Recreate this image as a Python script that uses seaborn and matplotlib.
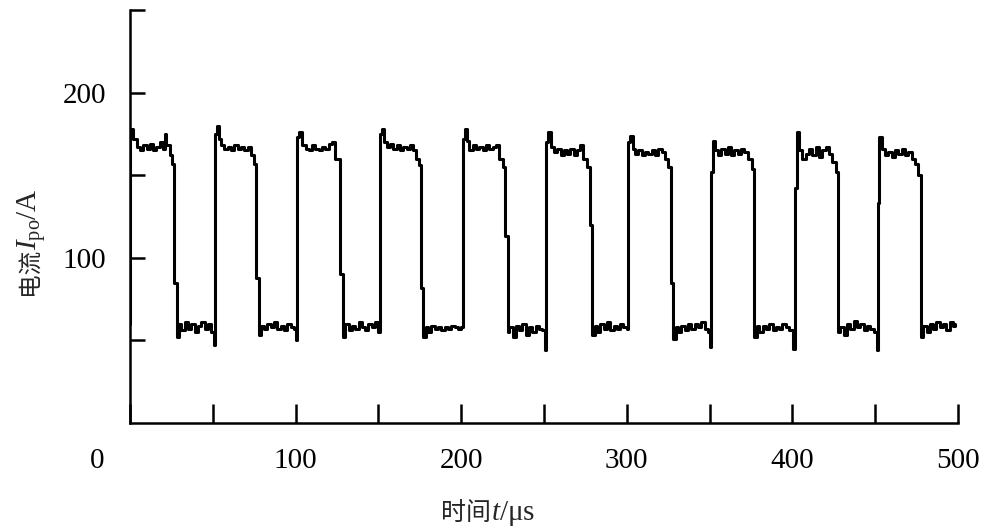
import matplotlib
matplotlib.use("Agg")
import matplotlib.pyplot as plt
import matplotlib.transforms as mtransforms
import seaborn as sns
import pandas as pd

# time (µs) and current (A); drawn as a step trace
time_us = [
    0, 0.3, 2, 4, 6, 8, 10, 12, 14, 16, 18, 20, 21, 22, 24, 25.5, 26.5, 28.5, 29.5, 31,
    33, 35, 37, 39, 41, 43, 45, 47, 49, 50.5,
    51.3, 52.5, 53.5, 55, 57, 59, 61, 63, 65, 67, 69, 71, 73, 75, 76, 77.8, 79, 81, 83,
    85, 87, 89, 91, 93, 95, 97, 99, 100.2,
    101, 102, 104, 106, 108, 110, 112, 114, 116, 118, 120, 122, 124, 127, 128.5, 130,
    132, 134, 136, 138, 140, 142, 144, 146, 148, 150,
    151, 152, 153.5, 155, 157, 159, 161, 163, 165, 167, 169, 171, 172.5, 174.5, 175.5,
    177, 178.5, 180, 182, 184, 186, 188, 190, 192, 194, 196, 198, 200,
    201, 202, 203.5, 205, 207, 209, 211, 213, 215, 217, 219, 221, 223, 225.5, 226.5,
    228, 229, 231, 233, 235, 237, 239, 241, 243, 245, 247, 249, 250.5,
    251, 252.5, 254, 256, 258, 260, 262, 264, 266, 268, 270, 272, 273.5, 276, 277.5,
    279, 280.5, 282, 284, 286, 288, 290, 292, 294, 296, 298, 300,
    300.7, 302, 303.5, 305, 307, 309, 311, 313, 315, 317, 319, 321, 323, 325, 326.5,
    328, 329.5, 331, 333, 335, 337, 339, 341, 343, 345, 347, 349, 350.3,
    351, 352, 353.5, 355, 357, 359, 361, 363, 365, 367, 369, 371, 373, 375.5, 377,
    378.5, 380, 382, 384, 386, 388, 390, 392, 394, 396, 398, 400.5,
    401.6, 402.5, 404, 406, 408, 410, 412, 414, 416, 418, 420, 422, 424, 426.5, 427.5,
    429, 431, 433, 435, 437, 439, 441, 443, 445, 447, 449, 451,
    451.7, 452.5, 454, 456, 458, 460, 462, 464, 466, 468, 470, 472, 474, 476, 477.5,
    479, 481, 483, 485, 487, 489, 491, 493, 495, 497, 498,
]
current_a = [
    60, 178, 172, 167, 165, 168, 166, 169, 165, 167, 170, 166, 175, 168, 162, 157, 85, 52, 60, 56,
    61, 57, 60, 55, 59, 61, 57, 60, 55, 47,
    175, 180, 172, 168, 166, 167, 165, 168, 166, 167, 165, 167, 162, 157, 88, 53, 59, 57, 60,
    58, 61, 57, 59, 56, 60, 58, 57, 50,
    173, 176, 168, 166, 165, 168, 166, 165, 167, 166, 169, 170, 160, 90, 52, 60,
    56, 59, 57, 61, 58, 56, 60, 58, 61, 55,
    175, 178, 170, 167, 169, 166, 168, 165, 167, 166, 168, 165, 160, 156, 82,
    52, 58, 55, 59, 57, 58, 56, 58, 57, 59, 58, 57, 58,
    172, 178, 171, 165, 168, 166, 167, 165, 168, 166, 167, 168, 160, 155, 113,
    55, 58, 52, 59, 56, 60, 53, 58, 55, 59, 57, 56, 44,
    170, 176, 167, 164, 166, 162, 165, 163, 166, 162, 165, 168, 160, 155, 120,
    53, 59, 55, 60, 57, 61, 56, 59, 57, 60, 58, 57,
    170, 174, 166, 163, 165, 162, 164, 163, 165, 162, 166, 164, 160, 155, 85,
    51, 58, 55, 59, 56, 60, 57, 60, 58, 61, 57, 55, 46,
    152, 171, 165, 162, 166, 163, 167, 162, 165, 163, 166, 164, 160, 154, 52,
    59, 55, 59, 57, 60, 56, 58, 57, 60, 58, 56, 45,
    142, 176, 165, 160, 163, 166, 162, 167, 161, 165, 167, 163, 158, 152, 55,
    58, 53, 60, 57, 62, 58, 60, 56, 59, 57, 55, 44,
    133, 173, 166, 162, 164, 161, 165, 163, 166, 162, 164, 160, 157, 150, 52,
    59, 55, 60, 57, 61, 58, 60, 56, 61, 59, 60,
]

x_major = [0, 50, 100, 150, 200, 250, 300, 350, 400, 450, 500]
x_labels = ["0", "", "100", "", "200", "", "300", "", "400", "", "500"]
y_major = [50, 100, 150, 200, 250]
y_labels = ["", "100", "", "200", ""]

sns.set_style("ticks")
plt.rcParams["font.family"] = ["Liberation Serif", "Noto Sans CJK SC", "DejaVu Sans"]
plt.rcParams["mathtext.fontset"] = "custom"
plt.rcParams["mathtext.rm"] = "Liberation Serif"
plt.rcParams["mathtext.it"] = "Liberation Serif:italic"

W, H = 981, 530
fig = plt.figure(figsize=(W / 100, H / 100), dpi=100)
ax = fig.add_axes([130 / W, (H - 423) / H, 828 / W, (423 - 10) / H])

df = pd.DataFrame({"t": time_us, "I": current_a})
sns.lineplot(data=df, x="t", y="I", ax=ax, color="black", linewidth=2.2,
             estimator=None, sort=False, drawstyle="steps-post")

ax.set_xlim(0, 500)
ax.set_ylim(0, 250)
ax.set_xticks(x_major)
ax.set_xticklabels(x_labels)
ax.set_yticks(y_major)
ax.set_yticklabels(y_labels)
ax.set_xlabel("")
ax.set_ylabel("")

for s in ["top", "right"]:
    ax.spines[s].set_visible(False)
for s in ["left", "bottom"]:
    ax.spines[s].set_linewidth(1.8)
    ax.spines[s].set_color("black")

ax.tick_params(axis="x", direction="in", length=14, width=1.8, pad=18,
               labelsize=21, colors="black")
ax.tick_params(axis="y", direction="in", length=11, width=1.8, pad=17,
               labelsize=21, colors="black")

# shift the "0" label left like the reference
lbl0 = ax.get_xticklabels()[0]
lbl0.set_transform(lbl0.get_transform() +
                   mtransforms.ScaledTranslation(-33 / 100, 0, fig.dpi_scale_trans))

# y label: 电流 I_po / A (rotated)
fig.text(30 / W, 1 - 295 / H, "电流", rotation=90, ha="center", va="bottom",
         fontsize=17, family=["Noto Sans CJK SC", "DejaVu Sans"])
fig.text(31 / W, 1 - 250 / H, r"$I_{\mathrm{po}}$/A", rotation=90, ha="center",
         va="bottom", fontsize=21, family=["Liberation Serif", "DejaVu Sans"])

# x label: 时间 t/µs
fig.text(491 / W, 1 - 513 / H, "时间", ha="right", va="center",
         fontsize=18, family=["Noto Sans CJK SC", "DejaVu Sans"])
fig.text(491 / W, 1 - 513 / H, r"$t$/μs", ha="left", va="center",
         fontsize=21, family=["Liberation Serif", "DejaVu Sans"])

fig.savefig("out.png", dpi=100)
